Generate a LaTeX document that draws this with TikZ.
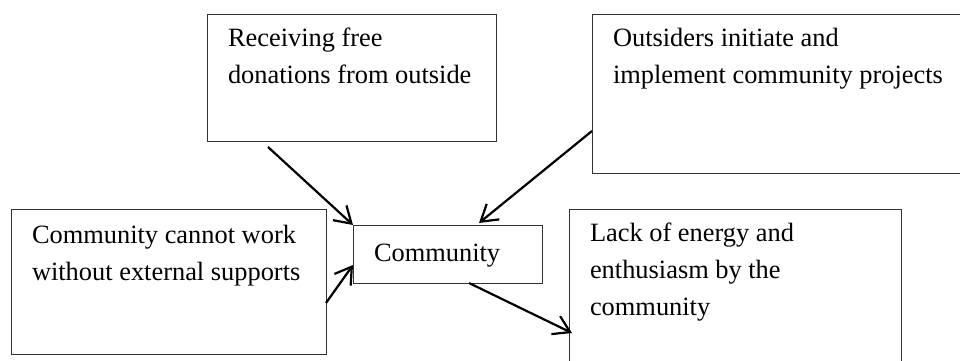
\documentclass[tikz,border=0pt]{standalone}
\usepackage{fontspec}
\setmainfont{Liberation Serif}
\usetikzlibrary{arrows.meta}
\definecolor{myframe}{RGB}{51,51,51}

% top aligned text block: width, height, text
\newcommand{\boxtext}[3]{\parbox[t][#2][t]{#1}{\raggedright\strut #3}}

\begin{document}
\begin{tikzpicture}[
      x=1pt, y=-1pt,
      box/.style = {draw=myframe, line width=1pt, anchor=north west,
                    inner xsep=21pt, inner ysep=7pt, outer sep=0pt,
                    font=\rmfamily\fontsize{26.4}{37}\selectfont},
      arr/.style = {-{Straight Barb[length=16pt, width=20pt]}, line width=2.2pt},
    ]
    \useasboundingbox (0,0) rectangle (960,360);
    \clip (0,0) rectangle (960,360);

    \node[box] (A) at (207,14)
      {\boxtext{247pt}{113pt}{Receiving free\\donations from outside}};
    \node[box] (B) at (592,14)
      {\boxtext{338pt}{145pt}{Outsiders initiate and\\implement community projects}};
    \node[box, inner ysep=9pt] (C) at (11,209)
      {\boxtext{273pt}{127pt}{Community cannot work\\without external supports}};
    \node[box, inner ysep=11pt] (D) at (353,225)
      {\boxtext{147pt}{36pt}{Community}};
    \node[box] (E) at (569,209)
      {\boxtext{290pt}{156pt}{Lack of energy and\\enthusiasm by the\\community}};

    \draw[arr] ([xshift=61pt, yshift=-6pt]A.south west) -- (D.north west);
    \draw[arr] ([yshift=-117pt]B.north west) -- ([xshift=126pt, yshift=2pt]D.north west);
    \draw[arr] ([yshift=-94pt]C.north east) -- ([yshift=-40pt]D.north west);
    \draw[arr] ([xshift=116pt]D.south west) -- ([xshift=3pt, yshift=-124pt]E.north west);
  \end{tikzpicture}
\end{document}
